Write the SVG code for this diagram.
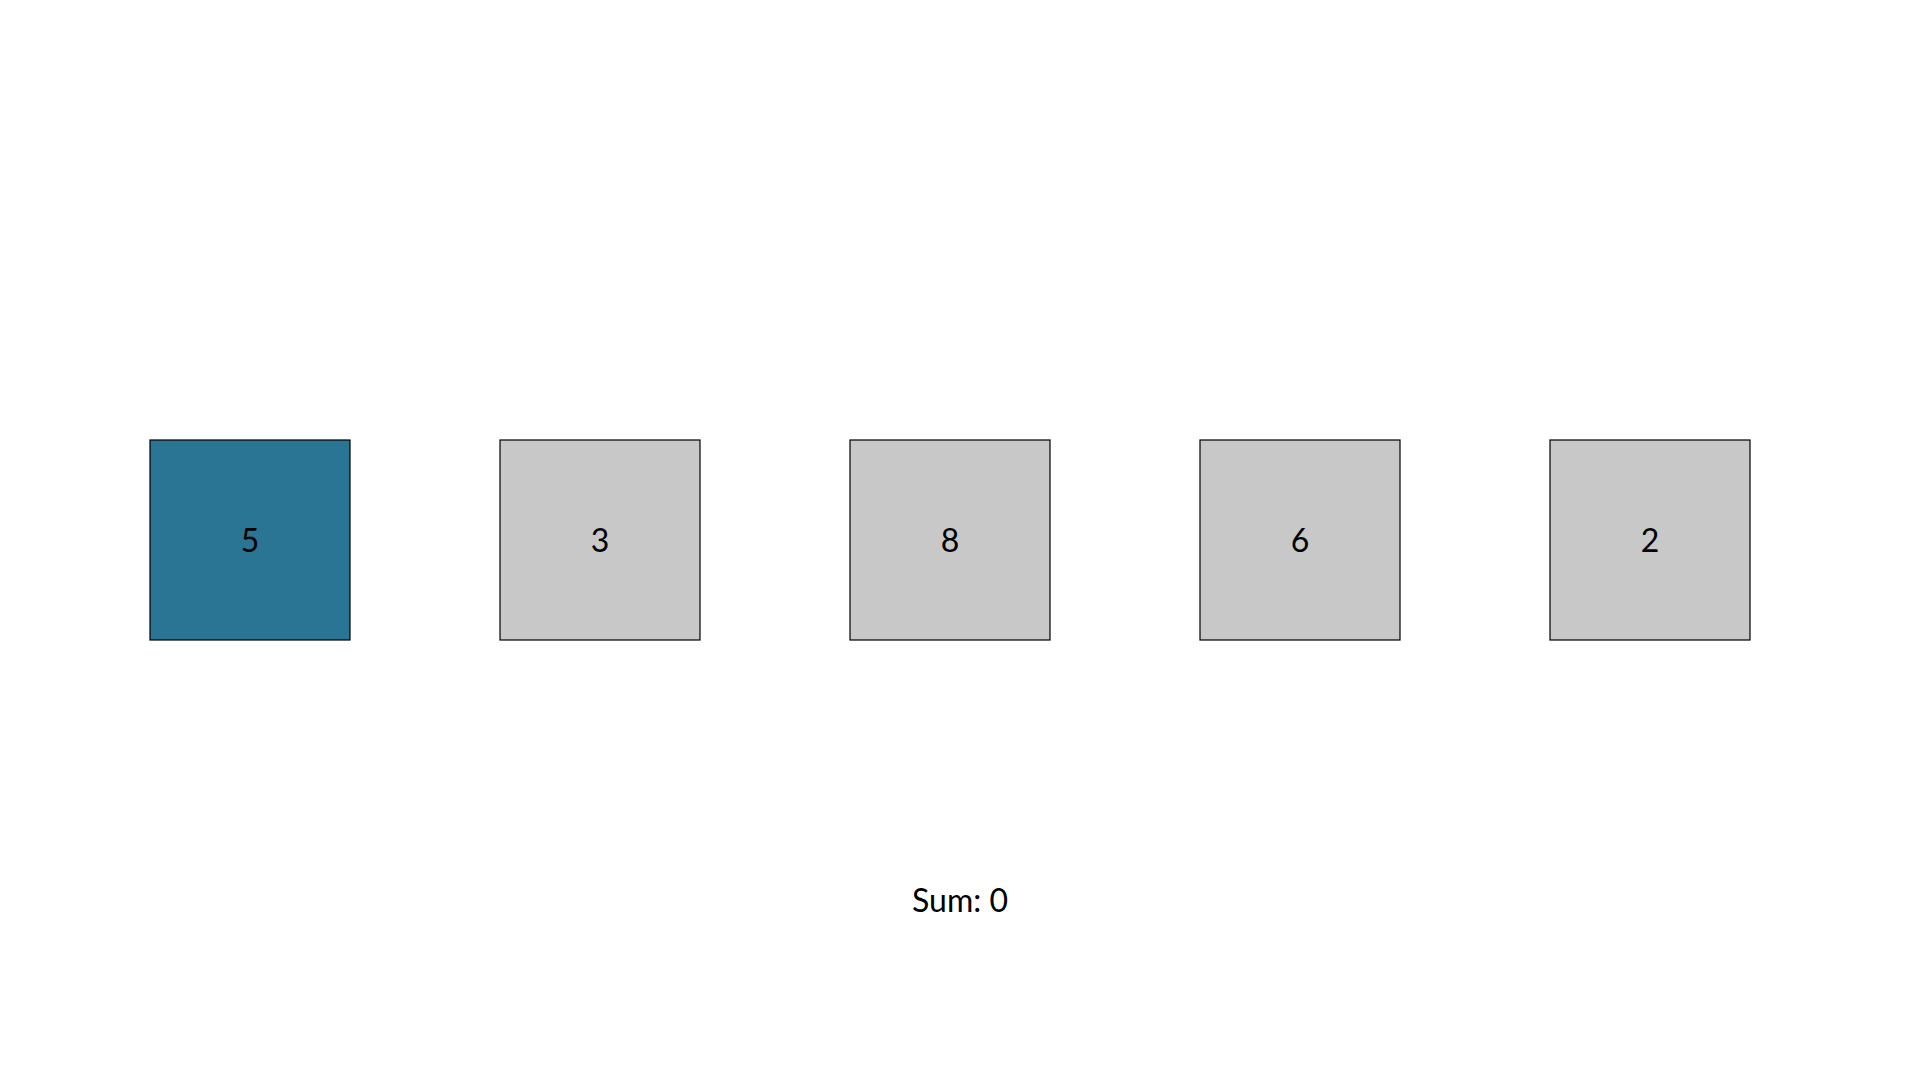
<svg xmlns="http://www.w3.org/2000/svg" width="1920" height="1080" viewBox="0 0 1920 1080">
<style>
.box{stroke:#000;stroke-width:1.2}
.gray{fill:#c8c8c8}
.blue{fill:#2a7494}
.lbl{font-family:Lato,"Liberation Sans",sans-serif;font-size:32px;fill:#000;text-anchor:middle}
</style>
<rect width="1920" height="1080" fill="#fff"/>
<g id="node-0"><rect class="box blue" x="150" y="440" width="200" height="200"/><text class="lbl" x="250" y="552">5</text></g>
<g id="node-1"><rect class="box gray" x="500" y="440" width="200" height="200"/><text class="lbl" x="600" y="552">3</text></g>
<g id="node-2"><rect class="box gray" x="850" y="440" width="200" height="200"/><text class="lbl" x="950" y="552">8</text></g>
<g id="node-3"><rect class="box gray" x="1200" y="440" width="200" height="200"/><text class="lbl" x="1300" y="552">6</text></g>
<g id="node-4"><rect class="box gray" x="1550" y="440" width="200" height="200"/><text class="lbl" x="1650" y="552">2</text></g>
<g id="connectors"></g>
<g id="sum"><text class="lbl" x="960" y="912">Sum: 0</text></g>
</svg>
